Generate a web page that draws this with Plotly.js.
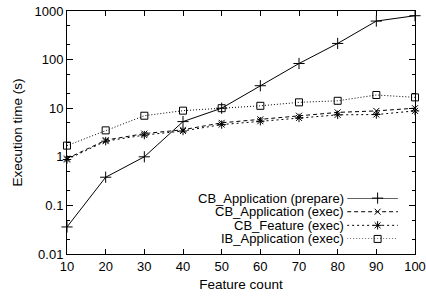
<!DOCTYPE html>
<html><head><meta charset="utf-8">
<script src="https://cdn.plot.ly/plotly-3.0.1.min.js"></script>
<style>html,body{margin:0;padding:0;background:#fff}#c{width:426px;height:302px}</style>
</head><body><div id="c"></div>
<script>
const featureCount = [10, 20, 30, 40, 50, 60, 70, 80, 90, 100];
const cbAppPrepare = [0.036, 0.38, 1.0, 5.3, 10, 29, 83, 215, 620, 800];
const cbAppExec    = [0.92, 2.2, 3.0, 3.6, 5.0, 5.9, 7.0, 8.2, 8.8, 10.0];
const cbFeatExec   = [0.88, 2.1, 2.8, 3.4, 4.6, 5.4, 6.3, 7.3, 7.4, 8.8];
const ibAppExec    = [1.7, 3.5, 7.0, 8.9, 10, 11.2, 13.2, 14.2, 18.7, 16.7];
const seriesNames  = ['CB_Application (prepare)', 'CB_Application (exec)', 'CB_Feature (exec)', 'IB_Application (exec)'];
const xTicks = [10, 20, 30, 40, 50, 60, 70, 80, 90, 100];
const yTicks = [0.01, 0.1, 1, 10, 100, 1000];

const seriesData = [cbAppPrepare, cbAppExec, cbFeatExec, ibAppExec];
const styles = [
  {dash: 'solid', symbol: 'cross-thin-open', size: 8},
  {dash: '4px,3px', symbol: 'x-thin-open', size: 6},
  {dash: '2px,3px', symbol: 'asterisk-open', size: 7},
  {dash: '1px,2px', symbol: 'square-open', size: 7}
];
const font = 'Liberation Sans, Arial, Helvetica, sans-serif';

const traces = [];
seriesData.forEach((ys, i) => {
  traces.push({
    x: featureCount, y: ys, name: seriesNames[i], mode: 'lines+markers', type: 'scatter',
    cliponaxis: false, showlegend: false,
    line: {color: '#000', width: 1, dash: styles[i].dash},
    marker: {symbol: styles[i].symbol, size: styles[i].size, color: '#000', line: {color: '#000', width: 1}}
  });
});
// legend keys drawn in a small helper axis
const keyX = [0, 1];
const keyMarkX = [0.6];
seriesData.forEach((ys, i) => {
  traces.push({x: keyX, y: [i, i], xaxis: 'x2', yaxis: 'y2', mode: 'lines', showlegend: false,
    hoverinfo: 'skip', line: {color: '#000', width: 1, dash: styles[i].dash}});
  traces.push({x: keyMarkX, y: [i], xaxis: 'x2', yaxis: 'y2', mode: 'markers', showlegend: false,
    hoverinfo: 'skip', cliponaxis: false,
    marker: {symbol: styles[i].symbol, size: styles[i].size, color: '#000', line: {color: '#000', width: 1}}});
});

const annotations = seriesNames.map((n, i) => ({
  text: n, xref: 'paper', yref: 'y2', x: 0.799, y: i, xanchor: 'right', yanchor: 'middle',
  showarrow: false, borderpad: 0, font: {family: font, size: 13, color: '#000'}
}));

const layout = {
  width: 426, height: 302,
  margin: {l: 67, r: 11, t: 11, b: 48},
  paper_bgcolor: '#fff', plot_bgcolor: '#fff',
  font: {family: font, size: 13, color: '#000'},
  showlegend: false,
  xaxis: {
    range: [10, 100], tickvals: xTicks, ticktext: xTicks.map(String),
    ticks: 'inside', ticklen: 5, tickcolor: '#000', tickwidth: 1,
    showline: true, linecolor: '#000', linewidth: 1, mirror: 'ticks',
    showgrid: false, zeroline: false,
    title: {text: 'Feature count', font: {family: font, size: 13.5}, standoff: 6},
    tickfont: {family: font, size: 13}
  },
  yaxis: {
    type: 'log', range: [-2, 3], tickvals: yTicks, ticktext: ['0.01', '0.1', '1', '10', '100', '1000'],
    ticks: 'inside', ticklen: 6, tickcolor: '#000', tickwidth: 1,
    minor: {dtick: 'D2', ticks: 'inside', ticklen: 3, tickcolor: '#000', showgrid: false},
    showline: true, linecolor: '#000', linewidth: 1, mirror: 'ticks',
    showgrid: false, zeroline: false,
    title: {text: 'Execution time (s)', font: {family: font, size: 13.5}, standoff: 8},
    tickfont: {family: font, size: 13}
  },
  xaxis2: {domain: [0.805, 0.951], range: [0, 1], anchor: 'y2', visible: false, fixedrange: true},
  yaxis2: {domain: [0.062, 0.230], range: [3, 0], anchor: 'x2', visible: false, fixedrange: true},
  annotations: annotations
};

Plotly.newPlot('c', traces, layout, {displayModeBar: false, staticPlot: true});
</script>
</body></html>
